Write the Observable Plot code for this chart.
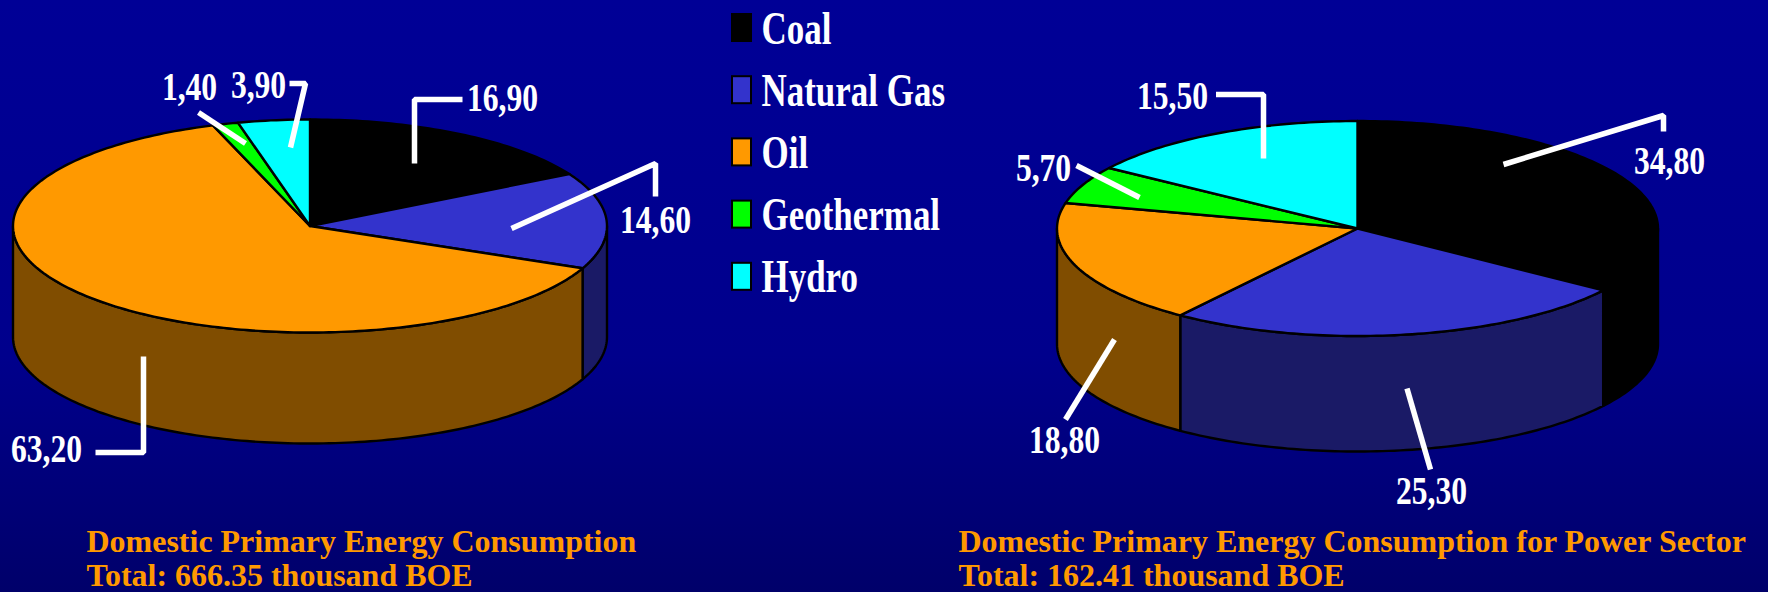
<!DOCTYPE html>
<html>
<head>
<meta charset="utf-8">
<style>
html,body{margin:0;padding:0;background:#000080;overflow:hidden}
svg{display:block}
</style>
<script src="https://cdn.jsdelivr.net/npm/d3@7"></script>
<script src="https://cdn.jsdelivr.net/npm/@observablehq/plot@0.6"></script>
</head>
<body>
<div id="chart"></div>
<script>
// --- data ---
const categories = ["Coal", "Natural Gas", "Oil", "Geothermal", "Hydro"];
const totalValues = [16.9, 14.6, 63.2, 1.4, 3.9];
const totalLabels = ["16,90", "14,60", "63,20", "1,40", "3,90"];
const powerValues = [34.8, 25.3, 18.8, 5.7, 15.5];
const powerLabels = ["34,80", "25,30", "18,80", "5,70", "15,50"];
const totalCaption = ["Domestic Primary Energy Consumption", "Total: 666.35 thousand BOE"];
const powerCaption = ["Domestic Primary Energy Consumption for Power Sector", "Total: 162.41 thousand BOE"];

// --- styles ---
const topColors = ["#000000", "#3333CC", "#FF9900", "#00FF00", "#00FFFF"];
const sideColors = ["#000000", "#1A1A66", "#804D00", "#008000", "#008080"];
const SERIF = "'Liberation Serif','Times New Roman',serif";

// --- layout (chart space = page pixels) ---
const W = 1768, H = 592;
const pieLeft = {cx: 309.5, cy: 225.5, rx: 297, ry: 106.5, depth: 111};
const pieRight = {cx: 1357, cy: 228, rx: 300.5, ry: 107.5, depth: 115.5};
const leftLabelAt = [[502, 110], [655, 232], [46, 461], [189, 99], [258, 97]];
const rightLabelAt = [[1669, 173], [1431, 503], [1064, 452], [1043, 180], [1172, 108]];
const leftLeaders = [
  [[414,163],[414,99],[462,99]],
  [[511,228],[655,163],[655,196]],
  [[143,356],[143,452],[95,452]],
  [[198,112],[245,143]],
  [[289,83],[305,83],[290,147]]
];
const rightLeaders = [
  [[1503,164],[1663,115],[1663,131]],
  [[1406.5,388],[1430,469]],
  [[1114,339],[1065,419]],
  [[1076,165],[1139,197]],
  [[1215.5,94],[1263,94],[1263,158]]
];

// --- geometry from values ---
const TAU = Math.PI * 2;
const sweep = d3.pie().sort(null).value(d => d);
function pt(p, a, dz = 0) {
  return {x: p.cx + p.rx * Math.sin(a), y: p.cy - p.ry * Math.cos(a) + dz};
}
function arcPts(p, a0, a1, dz = 0) {
  const n = Math.max(2, Math.ceil(Math.abs(a1 - a0) / 0.02));
  return d3.range(n + 1).map(i => pt(p, a0 + (a1 - a0) * i / n, dz));
}
function pieMarks(p, values) {
  const arcs = sweep(values);
  const marks = [];
  const style = {x: "x", y: "y", stroke: "#000", strokeWidth: 2.4, strokeLinejoin: "round"};
  arcs.forEach((s, i) => {
    const a0 = Math.max(s.startAngle, TAU / 4), a1 = Math.min(s.endAngle, TAU * 3 / 4);
    if (a1 > a0) {
      const poly = [...arcPts(p, a0, a1), ...arcPts(p, a1, a0, p.depth)];
      poly.push(poly[0]);
      marks.push(Plot.line(poly, {...style, fill: sideColors[i]}));
    }
  });
  arcs.forEach((s, i) => {
    const poly = [{x: p.cx, y: p.cy}, ...arcPts(p, s.startAngle, s.endAngle), {x: p.cx, y: p.cy}];
    marks.push(Plot.line(poly, {...style, fill: topColors[i]}));
  });
  return marks;
}
function leaderMarks(leaders) {
  return leaders.map(l => Plot.line(l, {
    x: d => d[0], y: d => d[1], stroke: "#fff", strokeWidth: 5.5,
    strokeLinejoin: "miter", strokeLinecap: "butt"
  }));
}
function labelRows(labels, at) { return labels.map((t, i) => ({t, x: at[i][0], y: at[i][1]})); }

// --- legend rows ---
const legendRows = categories.map((name, i) => ({
  name, color: topColors[i], y0: 14 + i * 62.2, y1: 41 + i * 62.2, base: 43 + i * 62
}));
// --- caption rows ---
const captionRows = [
  ...totalCaption.map((t, i) => ({t, x: 86, y: 551 + i * 34})),
  ...powerCaption.map((t, i) => ({t, x: 958, y: 551 + i * 34}))
];

const textBase = {fontFamily: SERIF, fontWeight: "bold", lineAnchor: "bottom"};
const plot = Plot.plot({
  width: W, height: H, margin: 0,
  x: {domain: [0, W], range: [0, W], axis: null},
  y: {domain: [0, H], range: [0, H], axis: null},
  style: {background: "linear-gradient(#000096 0%, #00008c 60%, #00006a 100%)", overflow: "hidden"},
  marks: [
    ...pieMarks(pieLeft, totalValues),
    ...pieMarks(pieRight, powerValues),
    ...leaderMarks(leftLeaders),
    ...leaderMarks(rightLeaders),
    Plot.text([...labelRows(totalLabels, leftLabelAt), ...labelRows(powerLabels, rightLabelAt)], {
      ...textBase, x: "x", y: "y", text: "t", fill: "#fff", fontSize: 41, textAnchor: "middle"
    }),
    Plot.rect(legendRows, {
      x1: () => 732, x2: () => 751, y1: "y0", y2: "y1", fill: "color", stroke: "#000", strokeWidth: 2
    }),
    Plot.text(legendRows, {
      ...textBase, x: () => 761, y: "base", text: "name", fill: "#fff", fontSize: 46, textAnchor: "start"
    }),
    Plot.text(captionRows, {
      ...textBase, x: "x", y: "y", text: "t", fill: "#FF9900", fontSize: 31, textAnchor: "start"
    })
  ]
});
// The source's type is a condensed bold serif: narrow or fit each text run horizontally.
const narrow = {41: 0.77, 46: 0.76, 31: 1.032};
plot.querySelectorAll("g[font-size] text").forEach(t => {
  const k = narrow[t.parentNode.getAttribute("font-size")];
  if (k) t.setAttribute("transform", (t.getAttribute("transform") || "") + ` scale(${k},1)`);
});
document.getElementById("chart").appendChild(plot);
</script>
</body>
</html>
